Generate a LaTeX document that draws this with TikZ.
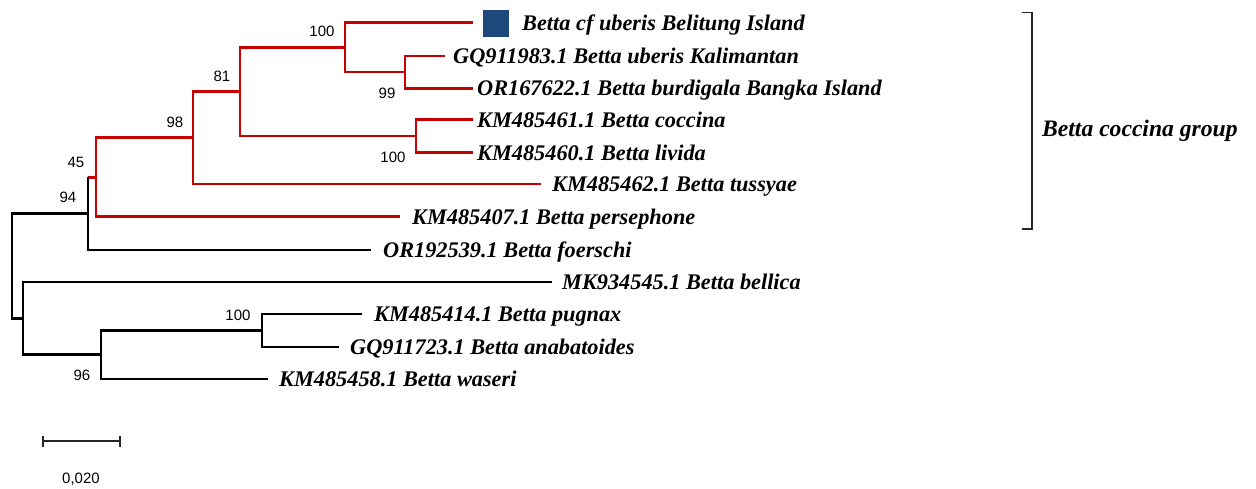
\documentclass[tikz,border=0pt]{standalone}
\usepackage{fontspec}
\setmainfont{Liberation Serif}
\newfontfamily\numfont{Liberation Sans}
\definecolor{treered}{RGB}{200,0,0}
\definecolor{markblue}{RGB}{31,73,125}
\begin{document}
\begin{tikzpicture}[x=1pt,y=-1pt,
  br/.style={line width=2.8pt, line join=miter},
  redbr/.style={br, draw=treered},
  blkbr/.style={br, draw=black},
  taxon/.style={anchor=base west, inner sep=0pt, font=\fontsize{22.3}{26}\selectfont\bfseries\itshape},
  grouplabel/.style={taxon, font=\fontsize{23.6}{27}\selectfont\bfseries\itshape},
  boot/.style={inner sep=0pt, font=\numfont\fontsize{15}{18}\selectfont},
  thinline/.style={line width=1.3pt, draw=black!85}]
\useasboundingbox (0,0) rectangle (1256,488);

% internal nodes
\coordinate (R) at (12,266);
\coordinate (G) at (88,213.6);
\coordinate (F) at (96,177.2);
\coordinate (E) at (193,137.7);
\coordinate (C) at (240,91.5);
\coordinate (A) at (345,47.3);
\coordinate (B) at (405,72);
\coordinate (D) at (416,136);
\coordinate (H) at (23,318.3);
\coordinate (I) at (101,354.7);
\coordinate (J) at (262,330.5);

% tip ends
\coordinate (t1) at (473,22.7);
\coordinate (t2) at (445,56);
\coordinate (t3) at (473,88.3);
\coordinate (t4) at (473,119.5);
\coordinate (t5) at (473,152.5);
\coordinate (t6) at (541,184);
\coordinate (t7) at (400,216.7);
\coordinate (t8) at (371,250);
\coordinate (t9) at (552,282);
\coordinate (t10) at (362,314);
\coordinate (t11) at (339,347);
\coordinate (t12) at (268,379);

% labels
\node[fill=markblue, minimum width=26pt, minimum height=27pt, inner sep=0pt] (sq) at (495.5,23.5) {};
\node[taxon] (n1) at (522,30.2) {Betta cf uberis Belitung Island};
\node[taxon] (n2) at (453,63.5) {GQ911983.1 Betta uberis Kalimantan};
\node[taxon] (n3) at (477,95.8) {OR167622.1 Betta burdigala Bangka Island};
\node[taxon] (n4) at (477,127) {KM485461.1 Betta coccina};
\node[taxon] (n5) at (477,160) {KM485460.1 Betta livida};
\node[taxon] (n6) at (552,191.5) {KM485462.1 Betta tussyae};
\node[taxon] (n7) at (412,224.2) {KM485407.1 Betta persephone};
\node[taxon] (n8) at (383,257.5) {OR192539.1 Betta foerschi};
\node[taxon] (n9) at (562,289.5) {MK934545.1 Betta bellica};
\node[taxon] (n10) at (374,321.5) {KM485414.1 Betta pugnax};
\node[taxon] (n11) at (350,354.5) {GQ911723.1 Betta anabatoides};
\node[taxon] (n12) at (279,386.5) {KM485458.1 Betta waseri};

% red clade
\draw[redbr] (G |- F) -- (F);
\draw[redbr] (F) |- (E);
\draw[redbr] (F) |- (t7);
\draw[redbr] (E) |- (C);
\draw[redbr] (E) |- (t6);
\draw[redbr] (C) |- (A);
\draw[redbr] (C) |- (D);
\draw[redbr] (A) |- (t1);
\draw[redbr] (A) |- (B);
\draw[redbr] (B) |- (t2);
\draw[redbr] (B) |- (t3);
\draw[redbr] (D) |- (t4);
\draw[redbr] (D) |- (t5);

% black branches
\draw[blkbr] (G) -- (G |- F);
\draw[blkbr] (G) |- (t8);
\draw[blkbr] (R) |- (G);
\draw[blkbr] (R) |- (H);
\draw[blkbr] (H) |- (t9);
\draw[blkbr] (H) |- (I);
\draw[blkbr] (I) |- (J);
\draw[blkbr] (I) |- (t12);
\draw[blkbr] (J) |- (t10);
\draw[blkbr] (J) |- (t11);

% bootstrap values
\node[boot] (bA) at (322,31) {100};
\node[boot] (bB) at (387,93) {99};
\node[boot] (bC) at (222,76) {81};
\node[boot] (bD) at (393,157) {100};
\node[boot] (bE) at (175,122.5) {98};
\node[boot] (bF) at (76,162.5) {45};
\node[boot] (bG) at (68,197.5) {94};
\node[boot] (bJ) at (238,315) {100};
\node[boot] (bI) at (82,375.5) {96};

% group bracket
\coordinate (k1) at (1022,12.5);
\coordinate (k2) at (1032,12.5);
\coordinate (k3) at (1032,229);
\coordinate (k4) at (1022,229);
\draw[thinline] (k1) -- (k2) -- (k3) -- (k4);
\node[grouplabel] (grp) at (1042,136.5) {Betta coccina group};

% scale bar
\coordinate (s1) at (43,441);
\coordinate (s2) at (120,441);
\draw[thinline] (s1) -- (s2);
\draw[thinline] ([yshift=-5.5pt]s1) -- ([yshift=5.5pt]s1);
\draw[thinline] ([yshift=-5.5pt]s2) -- ([yshift=5.5pt]s2);
\node[boot] (sl) at (81,479) {0,020};
\end{tikzpicture}
\end{document}
